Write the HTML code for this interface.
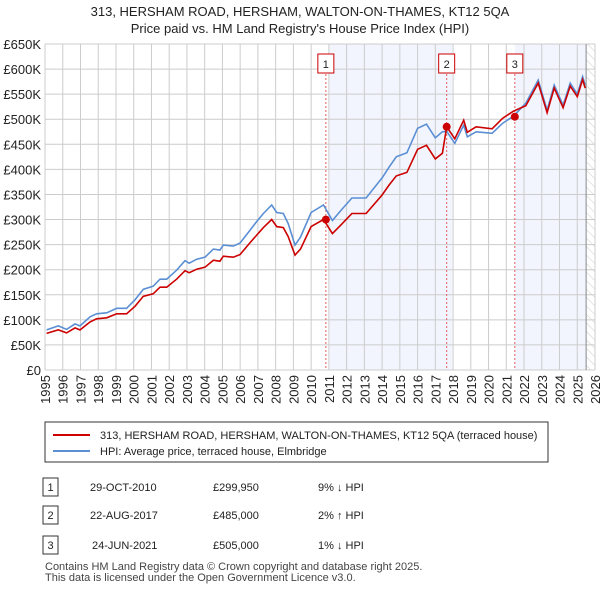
<!DOCTYPE html>
<html><head><meta charset="utf-8"><style>
body{margin:0;background:#fff;font-family:"Liberation Sans",sans-serif;}
#wrap{position:relative;width:600px;height:590px;overflow:hidden}
</style></head><body><div id="wrap">
<svg id="svg" width="600" height="590" xmlns="http://www.w3.org/2000/svg" font-family="Liberation Sans, sans-serif">
<text x="300" y="16" text-anchor="middle" font-size="13" fill="#222">313, HERSHAM ROAD, HERSHAM, WALTON-ON-THAMES, KT12 5QA</text>
<text x="300" y="33" text-anchor="middle" font-size="13" fill="#222">Price paid vs. HM Land Registry's House Price Index (HPI)</text>
<defs><pattern id="hatch" width="6" height="6" patternUnits="userSpaceOnUse" patternTransform="rotate(-45)"><line x1="0" y1="0" x2="0" y2="6" stroke="#ccc" stroke-width="1"/></pattern></defs>
<g id="plot"></g>
<g>
<rect x="45" y="422" width="503" height="40" fill="#fff" stroke="#333" stroke-width="1"/>
<line x1="53" y1="435" x2="90" y2="435" stroke="#cc0000" stroke-width="2"/>
<text x="100" y="439" font-size="11" fill="#222">313, HERSHAM ROAD, HERSHAM, WALTON-ON-THAMES, KT12 5QA (terraced house)</text>
<line x1="53" y1="451" x2="90" y2="451" stroke="#5b8fd4" stroke-width="2"/>
<text x="100" y="455" font-size="11" fill="#222">HPI: Average price, terraced house, Elmbridge</text>
</g>
<g font-size="11" fill="#222">
<rect x="43" y="478" width="15" height="18" fill="#fff" stroke="#333"/><text x="50.5" y="491" text-anchor="middle">1</text>
<text x="90" y="491">29-OCT-2010</text><text x="213" y="491">£299,950</text><text x="318" y="491">9% ↓ HPI</text>
<rect x="43" y="506" width="15" height="18" fill="#fff" stroke="#333"/><text x="50.5" y="519" text-anchor="middle">2</text>
<text x="90" y="519">22-AUG-2017</text><text x="213" y="519">£485,000</text><text x="318" y="519">2% ↑ HPI</text>
<rect x="43" y="536" width="15" height="18" fill="#fff" stroke="#333"/><text x="50.5" y="549" text-anchor="middle">3</text>
<text x="92" y="549">24-JUN-2021</text><text x="213" y="549">£505,000</text><text x="318" y="549">1% ↓ HPI</text>
</g>
<text x="45" y="570" font-size="11" fill="#444">Contains HM Land Registry data © Crown copyright and database right 2025.</text>
<text x="45" y="581" font-size="11" fill="#444">This data is licensed under the Open Government Licence v3.0.</text>
</svg></div>
<script>
const years=[1995.09,1995.75,1996.22,1996.69,1996.97,1997.54,1997.91,1998.48,1999.04,1999.6,2000.07,2000.54,2001.1,2001.48,2001.86,2002.42,2002.89,2003.13,2003.55,2004.02,2004.49,2004.86,2005.05,2005.61,2005.99,2006.56,2006.93,2007.31,2007.78,2008.06,2008.43,2008.71,2009.09,2009.4,2010.0,2010.7,2011.2,2011.7,2012.3,2013.1,2014.0,2014.4,2014.8,2015.4,2016.0,2016.5,2017.0,2017.4,2017.64,2018.1,2018.6,2018.8,2019.3,2020.2,2020.8,2021.4,2022.1,2022.8,2023.3,2023.7,2024.2,2024.6,2025.0,2025.3,2025.45];
const hpiValues=[80,88,81,92,88,106,112,114,123,123,140,161,167,181,181,199,218,213,221,225,241,239,249,247,253,279,296,312,329,314,312,292,249,265,314,329,298,319,343,343,383,405,425,433,482,490,463,475,476,452,488,465,475,472,492,506,532,578,518,568,528,572,550,585,568];
const priceValues=[73,80,74,84,80,96,102,104,112,112,127,147,152,165,165,181,198,194,201,205,219,217,227,225,230,254,269,284,300,286,284,266,229,241,286,300,272,290,312,312,349,369,387,394,440,448,421,432,485,461,498,474,485,481,502,516,527,572,513,562,523,566,545,579,562];
const saleYears=[2010.83,2017.64,2021.48];
const salePrices=[299.95,485,505];
const saleLabels=["1","2","3"];
const yTicks=[0,50,100,150,200,250,300,350,400,450,500,550,600,650];
const xTicks=[1995,1996,1997,1998,1999,2000,2001,2002,2003,2004,2005,2006,2007,2008,2009,2010,2011,2012,2013,2014,2015,2016,2017,2018,2019,2020,2021,2022,2023,2024,2025,2026];
const X0=45,X1=595,Y0=370,Y1=44;
const xs=y=>X0+(y-1995)/(2026-1995)*(X1-X0);
const ys=v=>Y0-v/650*(Y0-Y1);
const NS="http://www.w3.org/2000/svg",g=document.getElementById('plot');
function mk(t,a){const e=document.createElementNS(NS,t);for(const k in a)e.setAttribute(k,a[k]);g.appendChild(e);return e;}
let r=mk('rect',{x:xs(2011),y:Y1,width:xs(2017.95)-xs(2011),height:Y0-Y1,fill:'#f2f5fd'});


r=mk('rect',{x:xs(saleYears[2]),y:Y1,width:xs(2025.5)-xs(saleYears[2]),height:Y0-Y1,fill:'#f2f5fd'});


r=mk('rect',{x:xs(2025.5),y:Y1,width:X1-xs(2025.5),height:Y0-Y1,fill:'url(#hatch)'});


yTicks.forEach(v=>{
 const l=mk('line',{x1:X0,x2:X1,y1:ys(v),y2:ys(v),stroke:'#ccc','stroke-width':1});
 
 
 const t=mk('text',{x:41,y:ys(v)+5,'text-anchor':'end','font-size':13,fill:'#222'});
 t.textContent=v===0?'£0':'£'+v+'K';
 
 
});
xTicks.forEach(y=>{
 const l=mk('line',{y1:Y1,y2:Y0,x1:xs(y),x2:xs(y),stroke:'#ccc','stroke-width':1});
 
 
 const t=mk('text',{x:0,y:0,'text-anchor':'end','font-size':13,fill:'#222',transform:`translate(${xs(y)+5},375) rotate(-90)`});
 t.textContent=y;
 
 
});
mk('line',{x1:xs(2025.5),y1:Y1,x2:xs(2025.5),y2:Y0,stroke:'#888','stroke-width':1});
saleYears.forEach((y,i)=>{
 const l=mk('line',{x1:xs(y),x2:xs(y),y1:Y1+30,y2:Y0,stroke:'#e06060','stroke-width':1,'stroke-dasharray':'2,2'});
 
 
});
function path(vals,col,name){
 const d=years.map((y,i)=>(i?'L':'M')+xs(y).toFixed(1)+','+ys(vals[i]).toFixed(1)).join('');
 const p=mk('path',{d:d,fill:'none',stroke:col,'stroke-width':1.6});
 
 
}
path(hpiValues,'#5b8fd4','hpi-line');
path(priceValues,'#cc0000','price-paid-line');
saleYears.forEach((y,i)=>{
 const c=mk('circle',{cx:xs(y),cy:ys(salePrices[i]),r:4,fill:'#cc0000'});
 
 
 const b=mk('rect',{x:xs(y)-8,y:Y1+10,width:16,height:19,fill:'#fff',stroke:'#cc0000'});
 
 
 const t=mk('text',{x:xs(y),y:Y1+24,'text-anchor':'middle','font-size':11,fill:'#222'});
 t.textContent=saleLabels[i];
 
 
});
</script></body></html>
